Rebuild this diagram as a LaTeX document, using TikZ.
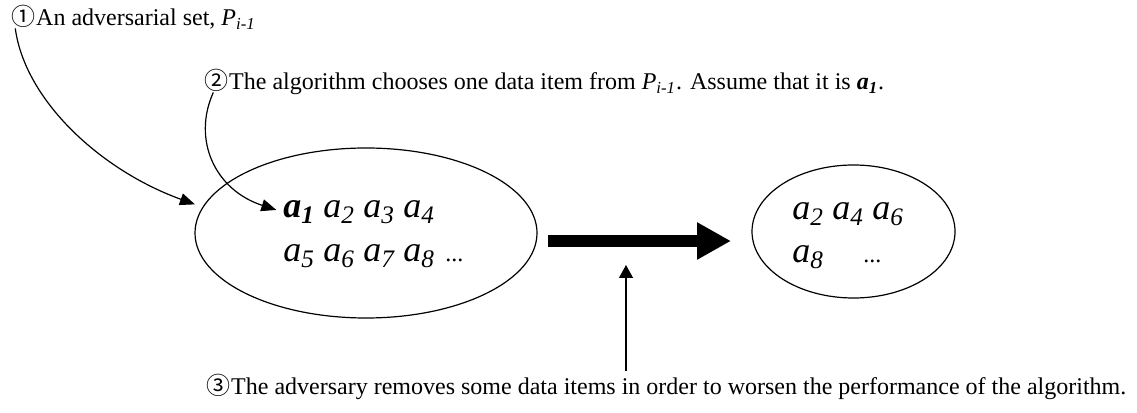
\documentclass[tikz,border=0pt]{standalone}
\usepackage{fontspec}
\setmainfont{Liberation Serif}
\newfontfamily\circfont{Noto Sans CJK SC}
\usetikzlibrary{arrows.meta}
\usetikzlibrary{shapes.geometric}

\begin{document}
\begin{tikzpicture}[x=0.5bp,y=-0.5bp,line join=bevel,
  txt/.style={inner sep=0pt,font=\fontsize{12bp}{14.5bp}\selectfont},
  digit/.style={inner sep=0pt,font=\fontsize{12bp}{14.5bp}\circfont},
  item/.style={inner sep=0pt,anchor=base west,font=\fontsize{18bp}{22bp}\selectfont},
  setshape/.style={draw,ellipse,inner sep=0pt,line width=0.6bp},
  pointer/.style={-{Triangle[length=7.5bp,width=6bp]},line width=0.6bp}]
\useasboundingbox (0,0) rectangle (1137,413);
%%
\node[digit,anchor=base west] (mark1) at (11,26) {①};
\node[txt,anchor=base west] (lab1) at (mark1.base east) {An adversarial set, \textit{P}\textsubscript{\textit{i-1}}};
\node[digit,anchor=base west] (mark2) at (204,90) {②};
\node[txt,anchor=base west] (lab2) at (mark2.base east) {The algorithm chooses one data item from \textit{P}\textsubscript{\textit{i-1}}. Assume that it is \textbf{\textit{a}\textsubscript{\textit{1}}}.};
\node[digit,anchor=base west] (mark3) at (206,395) {③};
\node[txt,anchor=base west] (lab3) at (mark3.base east) {The adversary removes some data items in order to worsen the performance of the algorithm.};
%
\node[setshape,minimum width=171bp,minimum height=85bp] (leftset) at (366,233) {};
\node[setshape,minimum width=101.5bp,minimum height=66.5bp] (rightset) at (853.5,231.5) {};
%
\node[item] (l1) at (283,218) {\textbf{\textit{a}\textsubscript{\textit{1}}}};
\foreach \k/\x/\y in {2/323/218,3/363/218,4/403/218,5/283/262,6/323/262,7/363/262,8/403/262}
  \node[item] (l\k) at (\x,\y) {\textit{a}\textsubscript{\textit{\k}}};
\node[item,font=\fontsize{12bp}{14.5bp}\selectfont] (ldots) at (445,262) {...};
\foreach \k/\x/\y in {2/792/220,4/832/220,6/872/220,8/792/263}
  \node[item] (r\k) at (\x,\y) {\textit{a}\textsubscript{\textit{\k}}};
\node[item,font=\fontsize{12bp}{14.5bp}\selectfont] (rdots) at (863,263) {...};
%
\coordinate (shaftstart) at (548,241);
\coordinate (shaftend) at (731,241);
\coordinate (foot) at (626,371);
\coordinate (remove) at (626,265);
\draw[pointer,shorten >=4bp] (mark1.235) .. controls (25,100) and (100,170) .. (leftset.171);
\draw[pointer,shorten >=3.5bp] (mark2.255) .. controls (192,140) and (215,190) .. (l1.west);
\draw[line width=6bp,-{Triangle[length=17bp,width=17.5bp]}] (shaftstart) -- (shaftend);
\draw[line width=0.6bp,-{Triangle[length=6.5bp,width=7bp]}] (foot) -- (remove);
%
\end{tikzpicture}
\end{document}
